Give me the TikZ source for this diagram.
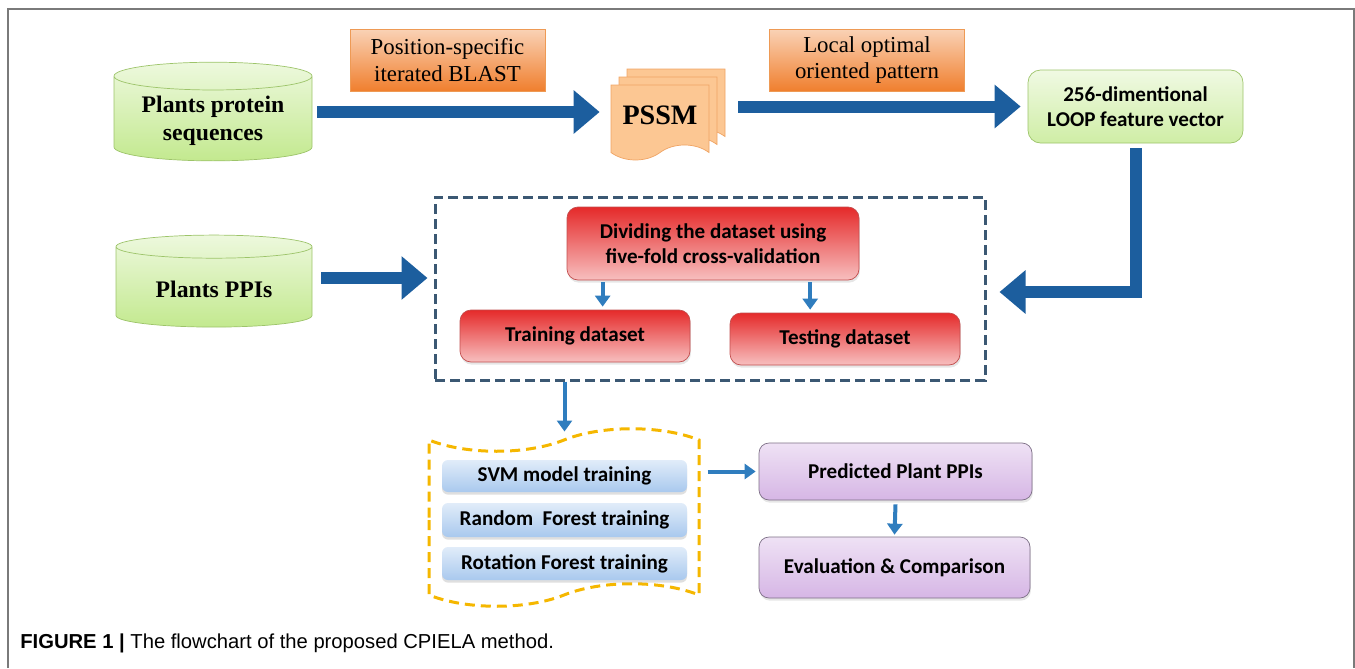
\documentclass[tikz,border=0pt]{standalone}
\usepackage{fontspec}
\setmainfont{Liberation Serif}
\setsansfont{Carlito}
\newfontfamily\capfont{Liberation Sans}
\usetikzlibrary{arrows.meta,shapes.geometric,shapes.symbols,shadows,calc}

\definecolor{flowblue}{HTML}{1C5E9E}
\definecolor{stepblue}{HTML}{2F7DBE}
\definecolor{dbgreen}{HTML}{C3E98F}
\definecolor{dbline}{HTML}{9DC46A}
\definecolor{toolorange}{HTML}{F07F2E}
\definecolor{toolline}{HTML}{EE9A55}
\definecolor{pagepeach}{HTML}{FCC793}
\definecolor{pageline}{HTML}{F0A464}
\definecolor{splitred}{HTML}{E52A2A}
\definecolor{splitline}{HTML}{C24E4E}
\definecolor{modelblue}{HTML}{A9C9EE}
\definecolor{resultpurple}{HTML}{D6B6E5}
\definecolor{resultline}{HTML}{7D6F86}
\definecolor{foldline}{HTML}{3B5873}
\definecolor{modelframe}{HTML}{F5B700}
\definecolor{frameline}{HTML}{7A7A7A}

\tikzset{
  database/.style={cylinder, shape border rotate=90, aspect=0.18, draw=dbline,
    top color=dbgreen!30, bottom color=dbgreen, font=\rmfamily\bfseries\fontsize{13.5}{16}\selectfont,
    align=center},
  toolbox/.style={rectangle, draw=toolline, top color=toolorange!35, bottom color=toolorange,
    minimum width=3.9cm, minimum height=1.24cm, align=center,
    font=\rmfamily\fontsize{13}{15}\selectfont},
  featbox/.style={rectangle, rounded corners=0.25cm, draw=dbline, top color=dbgreen!25,
    bottom color=dbgreen!80, align=center, font=\sffamily\bfseries\fontsize{12}{14}\selectfont},
  splitbox/.style={rectangle, rounded corners=0.22cm, draw=splitline, top color=splitred,
    bottom color=splitred!30, align=center, font=\sffamily\bfseries\fontsize{12}{14}\selectfont,
    drop shadow={opacity=0.2, shadow xshift=0.5pt, shadow yshift=-1.5pt}},
  modelbox/.style={rectangle, rounded corners=0.12cm, top color=modelblue!35,
    bottom color=modelblue, minimum width=4.9cm, align=center,
    font=\sffamily\bfseries\fontsize{12}{14}\selectfont,
    drop shadow={opacity=0.25, shadow xshift=0pt, shadow yshift=-1.5pt}},
  resultbox/.style={rectangle, rounded corners=0.2cm, draw=resultline, top color=resultpurple!40,
    bottom color=resultpurple, align=center, font=\sffamily\bfseries\fontsize{12}{14}\selectfont,
    drop shadow={opacity=0.2, shadow xshift=0.5pt, shadow yshift=-1.5pt}},
  bigarrow/.style={draw=flowblue, line width=0.24cm, -{Triangle[width=0.84cm,length=0.52cm]}},
  smallarrow/.style={draw=stepblue, line width=0.08cm, -{Triangle[width=0.3cm,length=0.22cm]}},
}

\begin{document}
\begin{tikzpicture}
  \useasboundingbox (0,0) rectangle (27.1,-13.36);
  % figure frame, open at the bottom
  \draw[frameline, line width=0.04cm] (0.16,-13.36) -- (0.16,-0.18) -- (27.08,-0.18) -- (27.08,-13.36);

  % top row: sequences -> PSSM -> feature vector
  \node[database, minimum width=3.96cm, minimum height=1.9cm] (seqdb) at (4.26,-2.42)
    {Plants protein\\sequences};
  \node[toolbox] (blast) at (8.95,-1.2) {Position-specific\\iterated BLAST};
  \node[tape, tape bend top=none, tape bend height=0.3cm, draw=pageline, fill=pagepeach,
    minimum width=1.96cm, minimum height=1.5cm, font=\rmfamily\bfseries\fontsize{16}{18}\selectfont,
    double copy shadow={shadow xshift=0.16cm, shadow yshift=0.16cm}] (pssm) at (13.2,-2.3) {PSSM};
  \node[toolbox] (loop) at (17.34,-1.2) {Local optimal\\oriented pattern};
  \node[featbox, minimum width=4.3cm, minimum height=1.46cm] (vec) at (22.71,-2.13)
    {256-dimentional\\LOOP feature vector};

  % middle row: PPIs and the cross-validation block
  \node[database, minimum width=3.92cm, minimum height=1.84cm] (ppidb) at (4.28,-5.78) {Plants PPIs};
  \node[draw=foldline, dash pattern=on 0.2cm off 0.1cm, line width=0.06cm,
    minimum width=11cm, minimum height=3.66cm] (folds) at (14.2,-5.77) {};
  \node[splitbox, minimum width=5.84cm, minimum height=1.46cm] (split) at (14.26,-4.87)
    {Dividing the dataset using\\five-fold cross-validation};
  \node[splitbox, minimum width=4.6cm, minimum height=1.04cm] (train) at (11.5,-6.72) {Training dataset};
  \node[splitbox, minimum width=4.6cm, minimum height=1.04cm] (test) at (16.9,-6.78) {Testing dataset};

  % bottom row: classifiers and results
  \node[tape, tape bend top=in and out, tape bend bottom=in and out, tape bend height=0.45cm,
    draw=modelframe, dash pattern=on 0.2cm off 0.12cm, line width=0.06cm,
    minimum width=5.4cm, minimum height=3.55cm] (models) at (11.28,-10.35) {};
  \node[modelbox, minimum height=0.64cm] (svm) at (11.29,-9.52) {SVM model training};
  \node[modelbox, minimum height=0.68cm] (rf) at (11.29,-10.4) {Random\ \ Forest training};
  \node[modelbox, minimum height=0.66cm] (rot) at (11.29,-11.27) {Rotation Forest training};
  \node[resultbox, minimum width=5.46cm, minimum height=1.14cm] (pred) at (17.91,-9.43)
    {Predicted Plant PPIs};
  \node[resultbox, minimum width=5.42cm, minimum height=1.22cm] (eval) at (17.89,-11.35)
    {Evaluation \& Comparison};

  % thick flow arrows
  \draw[bigarrow] ([xshift=0.1cm,yshift=0.18cm]seqdb.east) -- ([xshift=-0.22cm,yshift=0.18cm]seqdb.east -| pssm.west);
  \draw[bigarrow] ([xshift=0.58cm]pssm.east |- vec.west) -- ([xshift=-0.14cm]vec.west);
  \draw[bigarrow] ([yshift=-0.1cm]vec.south) |- ([xshift=0.26cm,yshift=-0.07cm]folds.east);
  \draw[bigarrow] ([xshift=0.18cm,yshift=0.22cm]ppidb.east) -- ([xshift=-0.12cm,yshift=0.22cm]ppidb.east -| folds.west);

  % small step arrows
  \coordinate (cutl) at ($(split.south west)!0.123!(split.south east)$);
  \coordinate (cutr) at ($(split.south west)!0.832!(split.south east)$);
  \draw[smallarrow] ([yshift=-0.04cm]cutl) -- ([yshift=0.06cm]cutl |- train.north);
  \draw[smallarrow] ([yshift=-0.04cm]cutr) -- ([yshift=0.06cm]cutr |- test.north);
  \draw[smallarrow] (folds.south -| svm.north) -- ++(0,-1.0);
  \draw[smallarrow] ([xshift=0.14cm]models.east |- pred.west) -- ([xshift=-0.06cm]pred.west);
  \draw[smallarrow] ([yshift=-0.08cm]pred.south) -- ([yshift=0.04cm]eval.north);

  % caption
  \node[anchor=west, inner sep=0pt, font=\capfont\fontsize{11.5}{13}\selectfont] (caption) at (0.4,-12.86)
    {\textbf{FIGURE 1 |} The flowchart of the proposed CPIELA method.};
\end{tikzpicture}
\end{document}
